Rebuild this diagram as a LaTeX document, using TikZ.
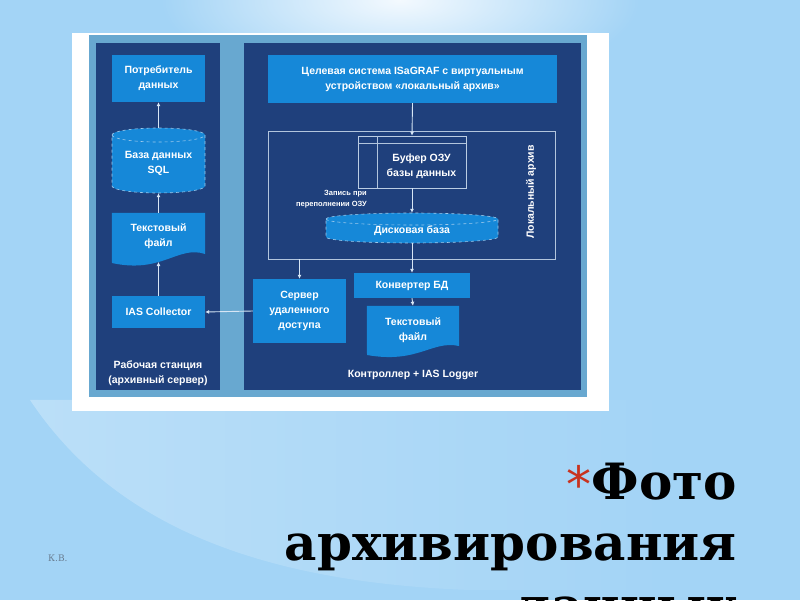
\documentclass[tikz,border=0pt]{standalone}
\usepackage{fontspec}
\setmainfont{Liberation Sans}
\newfontfamily\titlefont{DejaVu Serif}
\newfontfamily\astfont{DejaVu Sans}
\usetikzlibrary{arrows.meta,calc,fadings}
\definecolor{bgblue}{RGB}{163,212,246}
\definecolor{bglight}{RGB}{244,250,255}
\definecolor{frameblue}{RGB}{104,168,208}
\definecolor{panel}{RGB}{31,64,124}
\definecolor{nodeblue}{RGB}{22,136,216}
\definecolor{lineclr}{RGB}{215,230,245}
\definecolor{astred}{RGB}{200,50,30}
\definecolor{kvgray}{RGB}{105,125,145}
\tikzfading[name=swoosh, left color=transparent!70, middle color=transparent!0, right color=transparent!100]
\tikzfading[name=topglow, inner color=transparent!0, outer color=transparent!100]
\newcommand\diagfont{\bfseries\fontsize{10.5}{15}\selectfont}
\newcommand\smallfont{\bfseries\fontsize{7.5}{11.5}\selectfont}
\newcommand\titlesize{\titlefont\bfseries\fontsize{50}{61}\selectfont}
\begin{document}
\begin{tikzpicture}[x=1pt,y=-1pt,
  box/.style={fill=nodeblue, text=white, font=\diagfont, align=center, inner sep=0pt},
  txt/.style={text=white, font=\diagfont, align=center, inner sep=0pt},
  holder/.style={inner sep=0pt},
  arr/.style={draw=lineclr, line width=0.9pt, -{Latex[length=4pt,width=4pt]}},
  cylfill/.style={fill=nodeblue, draw=lineclr!70!nodeblue, dashed, line width=0.6pt},
  thinline/.style={draw=lineclr!80!panel, line width=0.7pt},
  docfill/.style={fill=nodeblue}]
\useasboundingbox (0,0) rectangle (800,600);
\clip (0,0) rectangle (800,600);
% background
\fill[bgblue] (0,0) rectangle (800,600);
\fill[bglight, path fading=topglow] (160,-90) rectangle (640,90);
\fill[bglight, path fading=swoosh] (30,400) .. controls (110,520) and (250,582) .. (470,590) -- (680,590) -- (680,400) -- cycle;
% image frame
\fill[white] (72,33) rectangle (609,411);
\fill[frameblue] (89,35) rectangle (587,397);
\fill[panel] (96,43) rectangle (220,390);
\fill[panel] (244,43) rectangle (581,390);
% ---- left panel
\node[box, minimum width=93pt, minimum height=47pt] (cons) at (158.5,78.5) {Потребитель\\данных};
\node[holder, minimum width=93pt, minimum height=65pt] (sql) at (158.5,160.5) {};
\path[cylfill] (112,135) arc[start angle=180, end angle=360, x radius=46.5, y radius=7] -- (205,186) arc[start angle=0, end angle=180, x radius=46.5, y radius=7] -- cycle;
\draw[cylfill, fill=none] (112,135) arc[start angle=180, end angle=0, x radius=46.5, y radius=7];
\node[txt] (sqltxt) at (158.5,163) {База данных\\SQL};
\node[holder, minimum width=93pt, minimum height=54pt] (tf1) at (158.5,240) {};
\fill[docfill] (tf1.north west) -- (tf1.north east) -- (205,254) .. controls (178,245) and (162,274) .. (112,263) -- cycle;
\node[txt] (tf1txt) at (158.5,236) {Текстовый\\файл};
\node[box, minimum width=93pt, minimum height=32pt] (coll) at (158.5,312) {IAS Collector};
\node[txt] (ws) at (158,373) {Рабочая станция\\(архивный сервер)};
% ---- right panel
\node[box, minimum width=289pt, minimum height=48pt] (top) at (412.5,79) {Целевая система ISaGRAF с виртуальным\\устройством «локальный архив»};
\node[holder, draw=lineclr!80!panel, line width=0.7pt, minimum width=287pt, minimum height=128pt] (la) at (411.5,195) {};
\node[txt, rotate=90] (latxt) at (531,192) {Локальный архив};
\node[holder, draw=lineclr!85!panel, line width=0.7pt, minimum width=108pt, minimum height=52pt] (buf) at (412,162) {};
\draw[thinline] (377,136) -- (377,188);
\draw[thinline] (358,143) -- (466,143);
\node[txt] (buftxt) at (421.5,166) {Буфер ОЗУ\\базы данных};
\node[text=white, font=\smallfont, align=right, inner sep=0pt, anchor=east] (note) at (367,199) {Запись при\\переполнении ОЗУ};
\node[holder, minimum width=172pt, minimum height=30pt] (disk) at (412,228) {};
\path[cylfill] (326,219) arc[start angle=180, end angle=360, x radius=86, y radius=6] -- (498,237) arc[start angle=0, end angle=180, x radius=86, y radius=6] -- cycle;
\draw[cylfill, fill=none] (326,219) arc[start angle=180, end angle=0, x radius=86, y radius=6];
\node[txt] (disktxt) at (412,231) {Дисковая база};
\node[box, minimum width=116pt, minimum height=25pt] (conv) at (412,285.5) {Конвертер БД};
\node[holder, minimum width=92pt, minimum height=49pt] (tf2) at (413,330.5) {};
\fill[docfill] (tf2.north west) -- (tf2.north east) -- (459,346) .. controls (432,340) and (418,364) .. (367,355) -- cycle;
\node[txt] (tf2txt) at (413,330) {Текстовый\\файл};
\node[box, minimum width=93pt, minimum height=64pt] (srv) at (299.5,311) {Сервер\\удаленного\\доступа};
\node[txt] (ctl) at (413,375) {Контроллер + IAS Logger};
% ---- arrows
\draw[arr] (sql.north) -- (cons.south);
\draw[arr] (tf1.north) -- (sql.south);
\draw[arr] (coll.north) -- (coll.north |- 0,262);
\draw[arr] (srv.west) -- (coll.east);
\draw[arr] (top.south) -- (buf.north);
\draw[arr] (buf.south) -- (disk.north);
\draw[arr] (disk.south) -- (conv.north);
\draw[arr] (conv.south) -- (tf2.north);
\draw[arr] (la.south -| srv.north) -- (srv.north);
% ---- title
\node[anchor=base east, inner sep=0pt, font=\titlesize] (t1) at (737,499) {{\astfont\mdseries\color{astred}\raisebox{-3pt}{*}}Фото};
\node[anchor=base east, inner sep=0pt, font=\titlesize] (t2) at (737,560) {архивирования};
\node[anchor=base east, inner sep=0pt, font=\titlesize] (t3) at (737,623) {данных};
\node[anchor=base west, inner sep=0pt, text=kvgray, font=\titlefont\fontsize{9}{10}\selectfont] (kv) at (48,561) {К.В.};
\end{tikzpicture}
\end{document}
